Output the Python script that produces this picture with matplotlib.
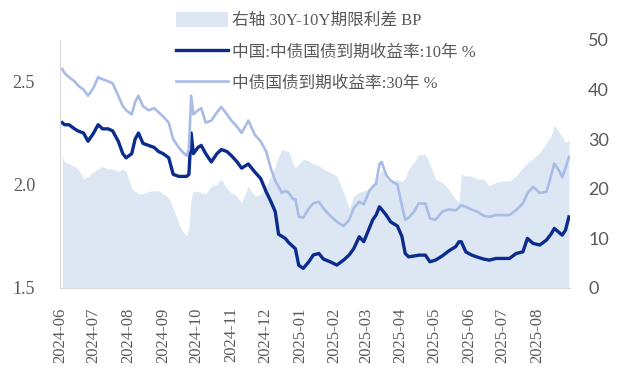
import numpy as np
import pandas as pd
import matplotlib
matplotlib.use("Agg")
import matplotlib.pyplot as plt
import matplotlib.dates as mdates

# 数据
dates = [
    "2024-06-03", "2024-06-05", "2024-06-09", "2024-06-14", "2024-06-17", "2024-06-22", "2024-06-26",
    "2024-07-01", "2024-07-05", "2024-07-09", "2024-07-14", "2024-07-18", "2024-07-23", "2024-07-27",
    "2024-07-30", "2024-08-04", "2024-08-07", "2024-08-10", "2024-08-14", "2024-08-19", "2024-08-24",
    "2024-08-28", "2024-09-01", "2024-09-06", "2024-09-10", "2024-09-15", "2024-09-18", "2024-09-22",
    "2024-09-24", "2024-09-26", "2024-09-28", "2024-10-02", "2024-10-05", "2024-10-09", "2024-10-14",
    "2024-10-19", "2024-10-23", "2024-10-28", "2024-11-01", "2024-11-06", "2024-11-10", "2024-11-16",
    "2024-11-22", "2024-11-27", "2024-12-02", "2024-12-06", "2024-12-10", "2024-12-13", "2024-12-16",
    "2024-12-19", "2024-12-22", "2024-12-26", "2024-12-28", "2024-12-31", "2025-01-04", "2025-01-09",
    "2025-01-13", "2025-01-18", "2025-01-22", "2025-01-28", "2025-02-03", "2025-02-09", "2025-02-14",
    "2025-02-18", "2025-02-23", "2025-02-27", "2025-03-04", "2025-03-07", "2025-03-10", "2025-03-13",
    "2025-03-15", "2025-03-19", "2025-03-23", "2025-03-29", "2025-04-02", "2025-04-05", "2025-04-08",
    "2025-04-13", "2025-04-17", "2025-04-23", "2025-04-27", "2025-05-02", "2025-05-08", "2025-05-14",
    "2025-05-20", "2025-05-23", "2025-05-25", "2025-05-29", "2025-06-03", "2025-06-08", "2025-06-14",
    "2025-06-19", "2025-06-25", "2025-07-02", "2025-07-07", "2025-07-13", "2025-07-19", "2025-07-23",
    "2025-07-28", "2025-08-03", "2025-08-09", "2025-08-13", "2025-08-16", "2025-08-20", "2025-08-23",
    "2025-08-26", "2025-08-29",
]
yield_10y = [
    2.30, 2.29, 2.29, 2.27, 2.26, 2.25, 2.21,
    2.25, 2.29, 2.27, 2.27, 2.26, 2.21, 2.15,
    2.13, 2.15, 2.22, 2.25, 2.20, 2.19, 2.18,
    2.16, 2.15, 2.13, 2.05, 2.04, 2.04, 2.04,
    2.05, 2.25, 2.15, 2.18, 2.19, 2.15, 2.11,
    2.15, 2.17, 2.16, 2.14, 2.11, 2.08, 2.10,
    2.06, 2.03, 1.965, 1.92, 1.87, 1.76, 1.75,
    1.74, 1.72, 1.70, 1.69, 1.61, 1.595, 1.627,
    1.66, 1.667, 1.64, 1.627, 1.611, 1.635, 1.66,
    1.69, 1.748, 1.724, 1.79, 1.83, 1.853, 1.893,
    1.88, 1.853, 1.82, 1.80, 1.75, 1.667, 1.651,
    1.655, 1.659, 1.659, 1.627, 1.635, 1.655, 1.68,
    1.70, 1.724, 1.724, 1.675, 1.66, 1.65, 1.64,
    1.635, 1.643, 1.643, 1.643, 1.667, 1.675, 1.74,
    1.716, 1.708, 1.732, 1.76, 1.788, 1.77, 1.756,
    1.78, 1.844,
]
yield_30y = [
    2.56, 2.54, 2.52, 2.50, 2.48, 2.46, 2.43,
    2.47, 2.52, 2.51, 2.50, 2.49, 2.43, 2.38,
    2.36, 2.34, 2.40, 2.43, 2.38, 2.36, 2.37,
    2.35, 2.33, 2.30, 2.22, 2.18, 2.16, 2.14,
    2.17, 2.43, 2.34, 2.36, 2.37, 2.30, 2.31,
    2.35, 2.376, 2.34, 2.31, 2.28, 2.25, 2.31,
    2.24, 2.21, 2.16, 2.08, 2.02, 1.99, 1.96,
    1.97, 1.96, 1.93, 1.93, 1.845, 1.84, 1.885,
    1.91, 1.917, 1.885, 1.85, 1.82, 1.80, 1.83,
    1.885, 1.917, 1.905, 1.97, 1.99, 2.006, 2.10,
    2.11, 2.046, 2.02, 2.00, 1.90, 1.83, 1.84,
    1.87, 1.909, 1.909, 1.837, 1.83, 1.87, 1.88,
    1.875, 1.89, 1.90, 1.893, 1.88, 1.87, 1.85,
    1.844, 1.853, 1.853, 1.853, 1.877, 1.91, 1.957,
    1.99, 1.96, 1.965, 2.04, 2.102, 2.07, 2.036,
    2.08, 2.134,
]
spread_bp = [
    26.5, 25.5, 25.0, 24.5, 24.0, 22.0, 22.5,
    23.5, 24.0, 24.5, 24.0, 24.0, 23.5, 24.0,
    23.5, 20.0, 19.5, 19.0, 19.0, 19.5, 19.6,
    19.6, 19.0, 18.2, 16.0, 13.0, 11.5, 10.5,
    12.0, 18.0, 19.5, 19.5, 19.2, 19.0, 20.5,
    21.0, 22.0, 20.0, 19.2, 18.5, 17.2, 20.5,
    18.5, 19.0, 20.5, 22.5, 24.5, 26.5, 28.0,
    27.6, 27.6, 25.0, 24.2, 25.0, 26.0, 25.6,
    25.0, 24.6, 24.0, 23.3, 22.6, 19.3, 16.0,
    18.6, 19.3, 19.6, 19.9, 21.0, 21.3, 23.0,
    23.9, 22.0, 21.3, 21.9, 21.5, 22.0, 24.0,
    25.3, 26.9, 26.9, 25.0, 21.9, 21.3, 19.9,
    17.9, 17.3, 22.9, 22.6, 22.6, 22.0, 21.9,
    20.6, 21.3, 21.6, 21.6, 22.6, 24.3, 25.3,
    26.0, 27.3, 29.3, 30.5, 32.9, 31.5, 30.6,
    29.3, 29.9,
]

labels = ["右轴 30Y-10Y期限利差 BP", "中国:中债国债到期收益率:10年 %", "中债国债到期收益率:30年 %"]

x = pd.to_datetime(dates)
c_fill = "#dde7f4"
c_10y = "#0b2c8c"
c_30y = "#a8bce6"
c_text = "#595959"
serif_fam = ["Liberation Serif", "Noto Sans CJK SC"]

fig = plt.figure(figsize=(6.21, 3.72), dpi=100)
ax = fig.add_axes([60 / 621, 84 / 372, 510 / 621, 248 / 372])
ax2 = ax.twinx()
ax.set_zorder(ax2.get_zorder() + 1)
ax.patch.set_visible(False)

h_fill = ax2.fill_between(x, 0, spread_bp, color=c_fill, lw=0, label=labels[0])
h10, = ax.plot(x, yield_10y, color=c_10y, lw=2.4, label=labels[1])
h30, = ax.plot(x, yield_30y, color=c_30y, lw=1.9, label=labels[2])

ax.set_xlim(x[0], x[-1] + pd.Timedelta(days=1))
ax.set_ylim(1.5, 2.7)
ax.set_yticks([1.5, 2.0, 2.5])
ax.yaxis.set_major_formatter(matplotlib.ticker.FormatStrFormatter("%.1f"))
ax2.set_ylim(0, 50)
ax2.set_yticks([0, 10, 20, 30, 40, 50])

ticks = pd.date_range("2024-06-01", "2025-08-01", freq="MS")
ax.set_xticks(ticks)
ax.xaxis.set_major_formatter(mdates.DateFormatter("%Y-%m"))

for a in (ax, ax2):
    for s in a.spines.values():
        s.set_visible(False)
ax.spines["left"].set_visible(True)
ax.spines["bottom"].set_visible(True)
ax.spines["left"].set_color("#d9d9d9")
ax.spines["bottom"].set_color("#d9d9d9")

ax.tick_params(axis="y", length=0, pad=18, labelsize=13, labelcolor=c_text)
ax.tick_params(axis="x", length=0, pad=14, labelsize=12, labelcolor=c_text, rotation=90)
for t in ax.get_xticklabels() + ax.get_yticklabels():
    t.set_family("Liberation Serif")
ax2.tick_params(axis="y", length=0, pad=13, labelsize=13, labelcolor=c_text)
for t in ax2.get_yticklabels():
    t.set_family("Lato")

leg = ax.legend(handles=[h_fill, h10, h30], loc="upper left",
                bbox_to_anchor=(176 / 621, 1 - 12 / 372), bbox_transform=fig.transFigure,
                frameon=False, borderpad=0, borderaxespad=0, handlelength=3.1,
                handleheight=1.0, handletextpad=0.25, labelspacing=0.85,
                prop={"family": serif_fam, "size": 12})
for t in leg.get_texts():
    t.set_color(c_text)

fig.savefig("out.png", dpi=100)
